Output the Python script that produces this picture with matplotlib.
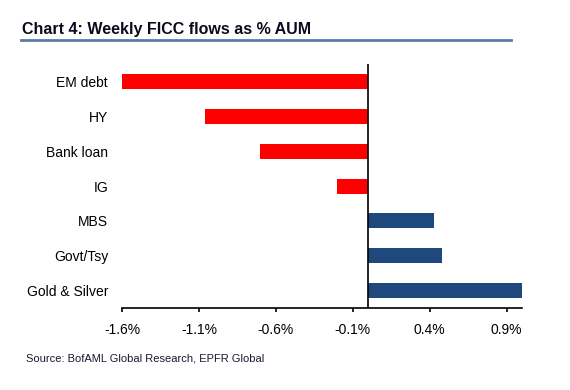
import matplotlib.pyplot as plt
import matplotlib.ticker as mtick

categories = ['EM debt', 'HY', 'Bank loan', 'IG', 'MBS', 'Govt/Tsy', 'Gold & Silver']
flows = [-1.6, -1.06, -0.7, -0.2, 0.43, 0.48, 1.0]
xticks = [-1.6, -1.1, -0.6, -0.1, 0.4, 0.9]

red = '#FF0000'
blue = '#1F497D'
colors = [red if v < 0 else blue for v in flows]

plt.rcParams['font.family'] = ['Liberation Sans', 'DejaVu Sans']

fig = plt.figure(figsize=(5.7, 3.9), dpi=100)
ax = fig.add_axes([0.214, 0.210, 0.702, 0.626])

ax.barh(range(len(categories)), flows, height=0.43, color=colors)
ax.axvline(0, color='black', lw=1.2)

ax.set_xlim(-1.6, 1.0)
ax.set_ylim(6.5, -0.5)
ax.set_yticks(range(len(categories)))
ax.set_yticklabels(categories, fontsize=10)
ax.set_xticks(xticks)
ax.xaxis.set_major_formatter(mtick.FuncFormatter(lambda v, p: '%.1f%%' % v))
ax.tick_params(axis='y', length=0, pad=10)
ax.tick_params(axis='x', length=3, width=1.2, direction='out', labelsize=10, pad=8)

for s in ['top', 'right', 'left']:
    ax.spines[s].set_visible(False)
ax.spines['bottom'].set_linewidth(1.2)

# title and rule
fig.text(0.038, 0.924, 'Chart 4: Weekly FICC flows as % AUM', fontsize=11.5,
         fontweight='bold', color='#0B0B1E', va='center')
fig.add_artist(plt.Line2D([0.037, 0.897], [0.897, 0.897], color='#5B7BA8', lw=2))

fig.text(0.045, 0.082, 'Source: BofAML Global Research, EPFR Global', fontsize=8,
         color='#1a1a2e', va='center')

fig.savefig('out.png', dpi=100)
